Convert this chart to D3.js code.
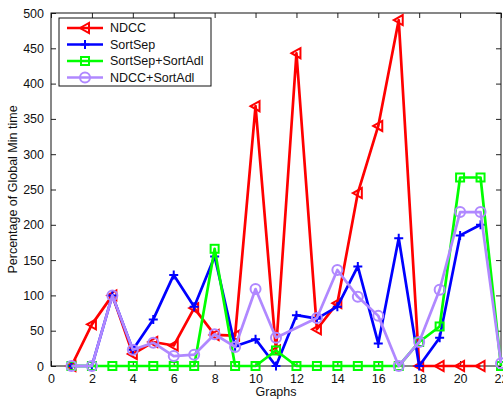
<!DOCTYPE html>
<html>
<head>
<meta charset="utf-8">
<script src="https://cdn.jsdelivr.net/npm/d3@7"></script>
<style>
  body { margin: 0; background: #fff; }
  svg { display: block; font-family: "Liberation Sans", Arial, sans-serif; }
</style>
</head>
<body>
<div id="chart"></div>
<script>
// graph numbers and series (percentage of global min time)
const graphs = d3.range(1, 23);
const ndcc =        [0, 59, 100, 17, 34, 29, 82, 44, 43, 368, 22, 443, 52, 89, 245, 340, 490, 0, 0, 0, 0, null];
const sortSep =     [0, 0, 100, 23, 66, 129, 84, 155, 28, 38, 0, 72, 67, 84, 141, 32, 181, 0, 40, 185, 200, null];
const sortSepAdl =  [0, 0, 0, 0, 0, 0, 0, 166, 0, 0, 22, 0, 0, 0, 0, 0, 0, 34, 56, 267, 267, 0];
const ndccAdl =     [0, 0, 100, 23, 33, 14, 16, 45, 27, 109, 40, null, 68, 136, 98, 71, 0, 34, 108, 218, 218, 4];
const seriesNames = ["NDCC", "SortSep", "SortSep+SortAdl", "NDCC+SortAdl"];
const seriesColors = ["#ff0000", "#0000ff", "#00ff00", "#b088ff"];
const seriesMarkers = ["triangle", "plus", "square", "circle"];
const xTicks = d3.range(0, 23, 2);
const yTicks = d3.range(0, 501, 50);

const width = 503, height = 399;
const margin = {top: 13, right: 2, bottom: 33, left: 51};

const svg = d3.select("#chart").append("svg")
    .attr("width", width)
    .attr("height", height);

const x = d3.scaleLinear().domain([0, 22]).range([margin.left, width - margin.right]);
const y = d3.scaleLinear().domain([0, 500]).range([height - margin.bottom, margin.top]);

// axes, ticks point inward like matlab
const tick = 5;
const fontSize = 12.5;
svg.append("g")
    .attr("transform", `translate(0,${y(0)})`)
    .call(d3.axisBottom(x).tickValues(xTicks).tickSize(-tick).tickPadding(tick + 3))
    .call(g => g.select(".domain").remove());
svg.append("g")
    .attr("transform", `translate(0,${y(500)})`)
    .call(d3.axisTop(x).tickValues(xTicks).tickSize(-tick).tickFormat(""))
    .call(g => g.select(".domain").remove());
svg.append("g")
    .attr("transform", `translate(${x(0)},0)`)
    .call(d3.axisLeft(y).tickValues(yTicks).tickSize(-tick).tickPadding(tick + 2))
    .call(g => g.select(".domain").remove());
svg.append("g")
    .attr("transform", `translate(${x(22)},0)`)
    .call(d3.axisRight(y).tickValues(yTicks).tickSize(-tick).tickFormat(""))
    .call(g => g.select(".domain").remove());
svg.selectAll(".tick text").attr("font-size", fontSize).attr("fill", "#111").attr("font-family", "Liberation Sans, Arial, sans-serif");
svg.selectAll(".tick line").attr("stroke", "#222");

svg.append("rect")
    .attr("x", x(0)).attr("y", y(500))
    .attr("width", x(22) - x(0)).attr("height", y(0) - y(500))
    .attr("fill", "none").attr("stroke", "#111").attr("stroke-width", 1);

svg.append("text")
    .attr("x", (x(0) + x(22)) / 2).attr("y", height - 3)
    .attr("text-anchor", "middle").attr("font-size", fontSize).attr("fill", "#111")
    .text("Graphs");
svg.append("text")
    .attr("transform", `translate(17,${(y(0) + y(500)) / 2}) rotate(-90)`)
    .attr("text-anchor", "middle").attr("font-size", fontSize).attr("fill", "#111")
    .text("Percentage of Global Min time");

function drawMarker(g, type, cx, cy, color) {
    if (type === "triangle") {
        const s = 5;
        g.append("path")
            .attr("d", `M${cx - s},${cy}L${cx + s * 0.8},${cy - s}L${cx + s * 0.8},${cy + s}Z`)
            .attr("fill", "none").attr("stroke", color).attr("stroke-width", 2);
    } else if (type === "plus") {
        const s = 4.5;
        g.append("path")
            .attr("d", `M${cx - s},${cy}H${cx + s}M${cx},${cy - s}V${cy + s}`)
            .attr("stroke", color).attr("stroke-width", 2);
    } else if (type === "square") {
        const s = 4;
        g.append("rect")
            .attr("x", cx - s).attr("y", cy - s).attr("width", 2 * s).attr("height", 2 * s)
            .attr("fill", "none").attr("stroke", color).attr("stroke-width", 2);
    } else {
        g.append("circle")
            .attr("cx", cx).attr("cy", cy).attr("r", 5)
            .attr("fill", "none").attr("stroke", color).attr("stroke-width", 2);
    }
}

const allSeries = [ndcc, sortSep, sortSepAdl, ndccAdl];
const line = d3.line().x(d => x(d[0])).y(d => y(d[1]));

allSeries.forEach((vals, i) => {
    const pts = graphs.map((gx, j) => [gx, vals[j]]).filter(d => d[1] !== null);
    const g = svg.append("g");
    g.append("path")
        .attr("d", line(pts))
        .attr("fill", "none")
        .attr("stroke", seriesColors[i])
        .attr("stroke-width", 2.7)
        .attr("stroke-linejoin", "round");
    pts.forEach(d => drawMarker(g, seriesMarkers[i], x(d[0]), y(d[1]), seriesColors[i]));
});

// legend
const legend = svg.append("g").attr("transform", "translate(59,18)");
legend.append("rect")
    .attr("width", 152).attr("height", 68)
    .attr("fill", "#fff").attr("stroke", "#111").attr("stroke-width", 1);
seriesNames.forEach((name, i) => {
    const ly = 10 + i * 16.5;
    legend.append("line")
        .attr("x1", 8).attr("x2", 44).attr("y1", ly).attr("y2", ly)
        .attr("stroke", seriesColors[i]).attr("stroke-width", 2.7);
    drawMarker(legend, seriesMarkers[i], 26, ly, seriesColors[i]);
    legend.append("text")
        .attr("x", 51).attr("y", ly).attr("dy", "0.35em")
        .attr("font-size", fontSize).attr("fill", "#111")
        .text(name);
});
</script>
</body>
</html>
